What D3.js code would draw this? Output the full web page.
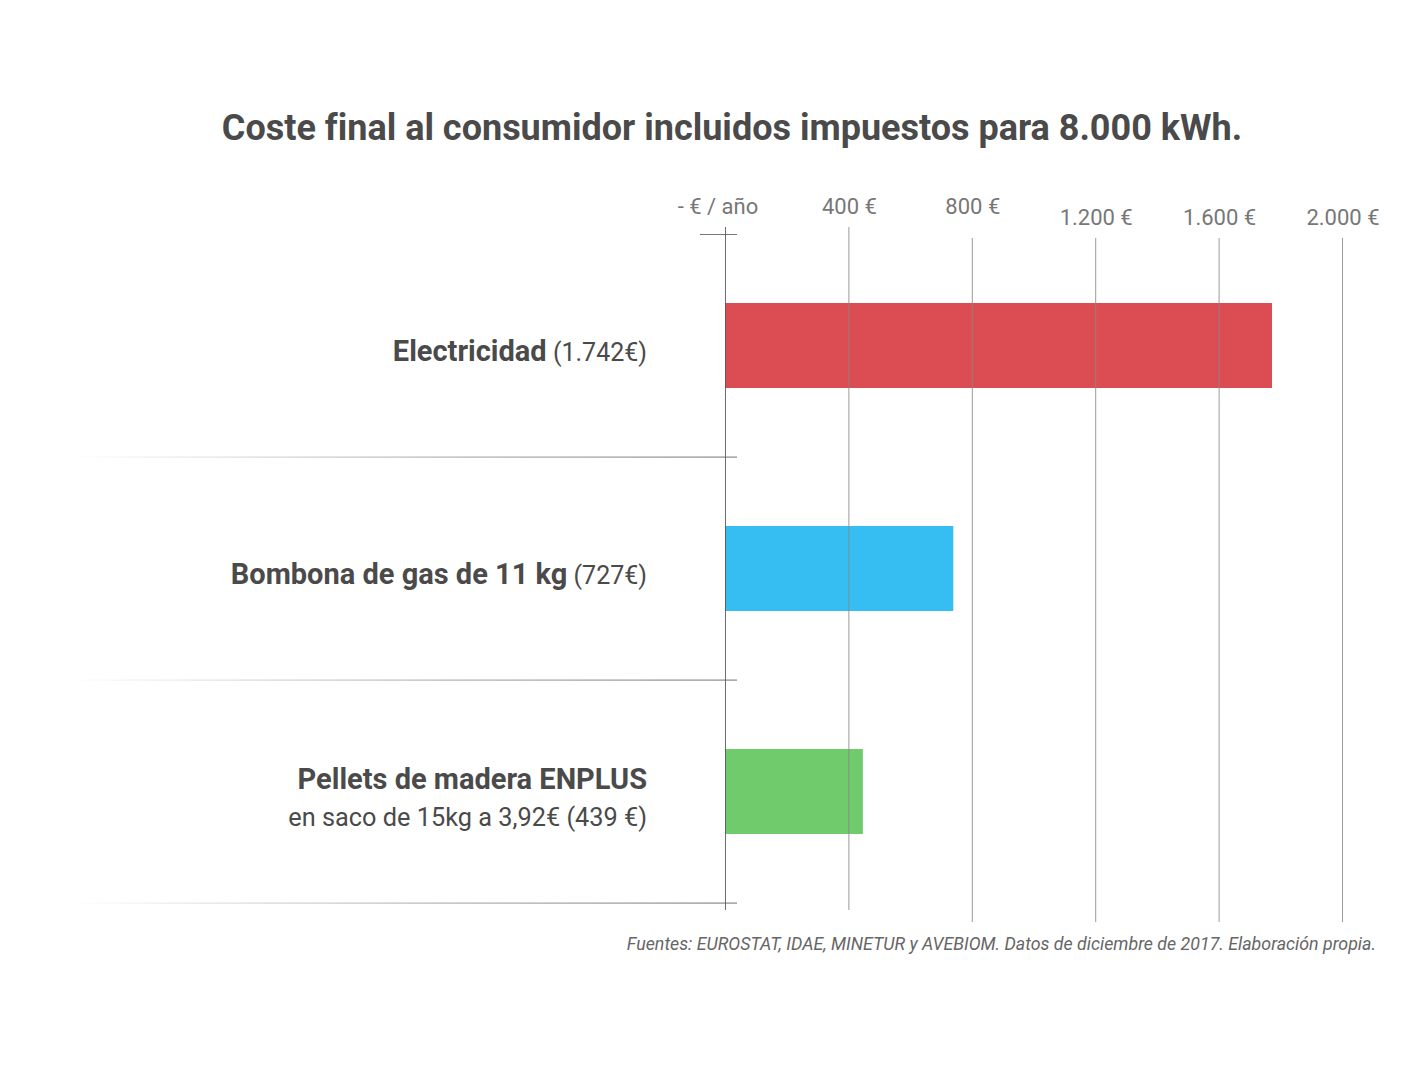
<!DOCTYPE html>
<html>
<head>
<meta charset="utf-8">
<script src="https://cdn.jsdelivr.net/npm/d3@7"></script>
<style>
  body { margin: 0; background: #fff; }
  text { font-family: Roboto, sans-serif; font-variant-ligatures: none; }
</style>
</head>
<body>
<div id="chart"></div>
<script>
const width = 1422;
const height = 1067;

const categories = ["Electricidad", "Bombona de gas de 11 kg", "Pellets de madera ENPLUS"];
const valueLabels = ["(1.742€)", "(727€)", "en saco de 15kg a 3,92€ (439 €)"];
const values = [1742, 727, 439];
const colors = ["#dc4c53", "#36bdf2", "#6fcb6b"];
const tickValues = [0, 400, 800, 1200, 1600, 2000];
const tickLabels = ["- € / año", "400 €", "800 €", "1.200 €", "1.600 €", "2.000 €"];

const svg = d3.select("#chart").append("svg")
  .attr("width", width)
  .attr("height", height);

// gridlines and bars are drawn to slightly different scales in the original
const xGrid = d3.scaleLinear().domain([0, 2000]).range([725, 1342]);
const xBar = d3.scaleLinear().domain([0, 2000]).range([725, 1353]);
const y = d3.scaleBand().domain(categories).range([234, 903]);
const barH = 85;

const defs = svg.append("defs");
const grad = defs.append("linearGradient").attr("id", "fade");
grad.append("stop").attr("offset", "0%").attr("stop-color", "#999").attr("stop-opacity", 0);
grad.append("stop").attr("offset", "60%").attr("stop-color", "#999").attr("stop-opacity", 0.8);
grad.append("stop").attr("offset", "100%").attr("stop-color", "#888").attr("stop-opacity", 1);

svg.append("text")
  .attr("x", 732)
  .attr("y", 140)
  .attr("text-anchor", "middle")
  .style("font-size", "36px")
  .style("font-weight", "bold")
  .style("fill", "#4a4a4a")
  .text("Coste final al consumidor incluidos impuestos para 8.000 kWh.");

// bars
svg.append("g").selectAll("rect")
  .data(categories)
  .join("rect")
  .attr("x", xBar(0))
  .attr("y", d => y(d) + (y.bandwidth() - barH) / 2)
  .attr("width", (d, i) => xBar(values[i]) - xBar(0))
  .attr("height", barH)
  .attr("fill", (d, i) => colors[i]);

// row separators
svg.append("g").selectAll("rect")
  .data(categories)
  .join("rect")
  .attr("x", 70)
  .attr("y", d => y(d) + y.bandwidth() - 0.5)
  .attr("width", 667)
  .attr("height", 1.2)
  .attr("fill", "url(#fade)");

svg.append("line")
  .attr("x1", 700).attr("x2", 737)
  .attr("y1", 234.5).attr("y2", 234.5)
  .attr("stroke", "#777").attr("stroke-width", 1);

// gridlines
svg.append("g").selectAll("line")
  .data(tickValues)
  .join("line")
  .attr("x1", d => xGrid(d) + 0.5)
  .attr("x2", d => xGrid(d) + 0.5)
  .attr("y1", (d, i) => i < 2 ? 227 : 238)
  .attr("y2", (d, i) => i < 2 ? 910 : 922)
  .attr("stroke", (d, i) => i === 0 ? "#555" : "#888")
  .attr("stroke-opacity", 0.85)
  .attr("stroke-width", 1);

svg.append("g").selectAll("text")
  .data(tickValues)
  .join("text")
  .attr("x", (d, i) => xGrid(d) + (i === 0 ? -7 : 1))
  .attr("y", (d, i) => i < 3 ? 214 : 225)
  .attr("text-anchor", "middle")
  .style("font-size", "22px")
  .style("fill", "#777")
  .text((d, i) => tickLabels[i]);

// category labels
const labels = svg.append("g").selectAll("text")
  .data(categories)
  .join("text")
  .attr("text-anchor", "end")
  .style("font-size", "29px")
  .style("fill", "#4a4a4a");

labels.each(function(d, i) {
  const t = d3.select(this);
  const cy = y(d) + y.bandwidth() / 2;
  if (i < 2) {
    t.attr("x", 647).attr("y", cy + 15);
    t.append("tspan").style("font-weight", "bold").text(d);
    t.append("tspan").style("font-size", "25px").text(" " + valueLabels[i]);
  } else {
    t.attr("x", 647).attr("y", cy - 3);
    t.append("tspan").style("font-weight", "bold").text(d);
    t.append("tspan").attr("x", 647).attr("dy", 37)
      .style("font-size", "25.3px").text(valueLabels[i]);
  }
});

svg.append("text")
  .attr("x", 1376)
  .attr("y", 950)
  .attr("text-anchor", "end")
  .style("font-size", "17.8px")
  .style("font-style", "italic")
  .style("fill", "#666")
  .text("Fuentes: EUROSTAT, IDAE, MINETUR y AVEBIOM. Datos de diciembre de 2017. Elaboración propia.");
</script>
</body>
</html>
